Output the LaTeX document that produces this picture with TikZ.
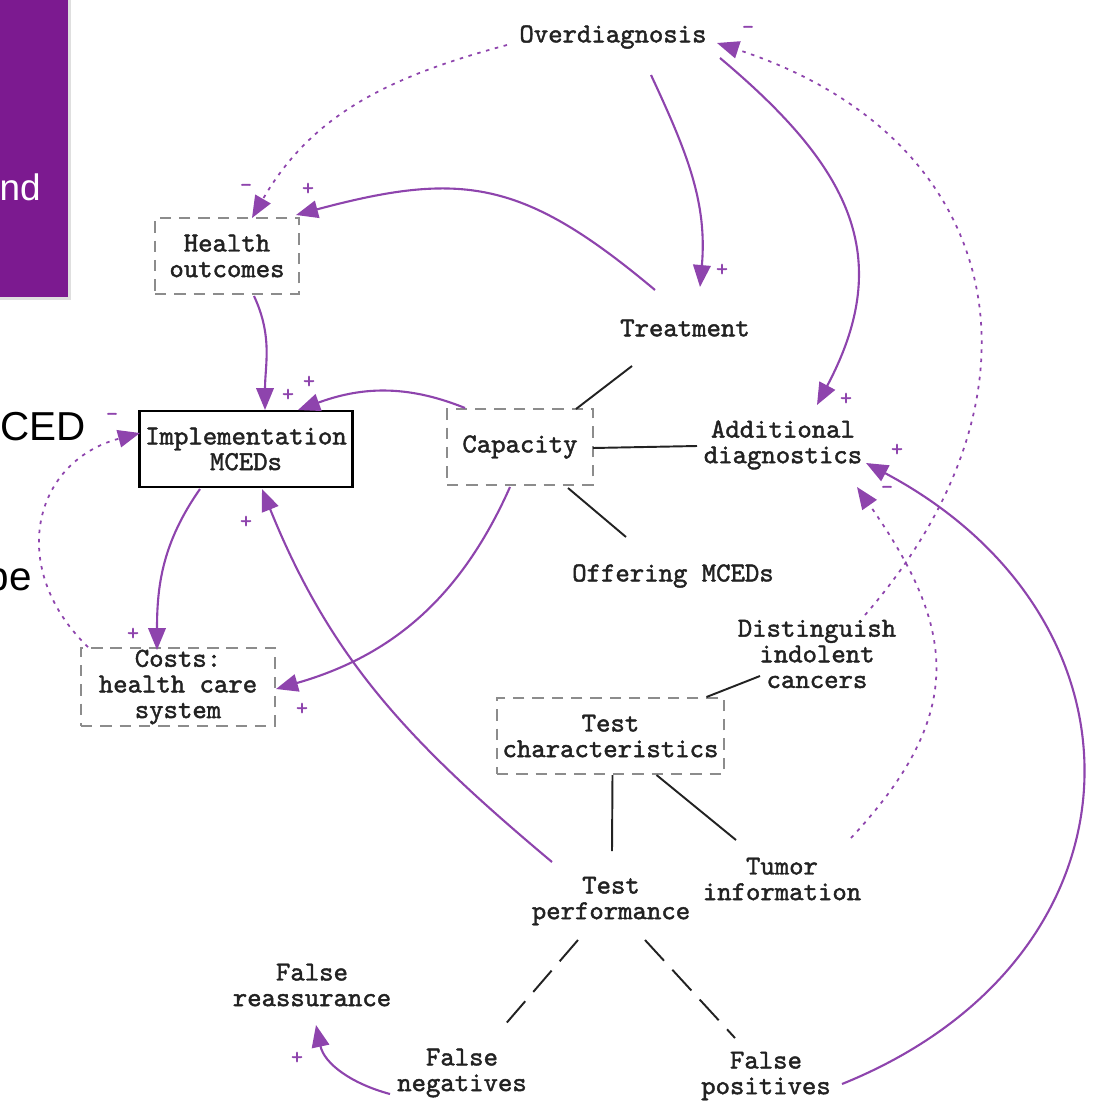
\documentclass[tikz,border=0pt]{standalone}
\usepackage{fontspec}
\newfontfamily\varfont{lmmono10-regular.otf}[FakeBold=1.6]
\newfontfamily\slidefont{Liberation Sans}
\usetikzlibrary{arrows.meta, calc, shadows}

\definecolor{loopline}{RGB}{142,68,173}
\definecolor{slidebg}{RGB}{124,26,144}
\definecolor{ink}{RGB}{34,34,34}

\begin{document}
\begin{tikzpicture}[
    var/.style={font=\varfont\fontsize{15.6}{14.6}\selectfont, text=ink, align=center, inner sep=1pt},
    dashbox/.style={var, rectangle, draw=gray!90, line width=1.1pt, dash pattern=on 6.5pt off 4.5pt},
    mainbox/.style={var, rectangle, draw=black, line width=1.4pt},
    link/.style={-{Triangle[length=12.5pt,width=10pt]}, loopline, line width=1.2pt},
    dotlink/.style={link, line width=1pt, dash pattern=on 2pt off 3.2pt},
    assoc/.style={ink, line width=1.1pt},
    longdash/.style={assoc, dash pattern=on 16pt off 7pt},
    polarity/.style={font=\varfont\fontsize{13}{13}\selectfont, text=loopline, inner sep=0pt},
    slidetext/.style={font=\slidefont\fontsize{23}{23}\selectfont, inner sep=0pt, anchor=base east}
  ]
  \useasboundingbox (0,0) rectangle (22,-22.02);

  % piece of the slide behind
  \fill[slidebg, drop shadow={shadow xshift=.6mm, shadow yshift=-.6mm, opacity=.25}] (-1,1) rectangle (1.36,-5.94);
  \node[slidetext, text=white, font=\slidefont\fontsize{21}{21}\selectfont] (frag1) at (0.82,-4.0) {nd};
  \node[slidetext] (frag2) at (1.72,-8.8) {CED};
  \node[slidetext] (frag3) at (0.64,-11.8) {pe};

  % variables
  \node[var] (over) at (12.26,-0.74) {Overdiagnosis};
  \node[dashbox, minimum width=2.88cm, minimum height=1.52cm] (health) at (4.54,-5.12) {Health\\outcomes};
  \node[var] (treat) at (13.7,-6.56) {Treatment};
  \node[mainbox, minimum width=4.26cm, minimum height=1.52cm] (impl) at (4.92,-8.98) {Implementation\\MCEDs};
  \node[dashbox, minimum width=2.92cm, minimum height=1.52cm] (cap) at (10.4,-8.94) {Capacity};
  \node[var] (addl) at (15.66,-8.9) {Additional\\diagnostics};
  \node[var] (offer) at (13.46,-11.52) {Offering MCEDs};
  \node[dashbox, minimum width=3.88cm, minimum height=1.48cm] (costs) at (3.56,-13.74) {Costs:\\health care\\system};
  \node[var] (dist) at (16.34,-13.08) {Distinguish\\indolent\\cancers};
  \node[dashbox, minimum width=4.54cm, minimum height=1.52cm] (chars) at (12.21,-14.72) {Test\\characteristics};
  \node[var] (tumor) at (15.64,-17.58) {Tumor\\information};
  \node[var] (perf) at (12.22,-18.02) {Test\\performance};
  \node[var] (reass) at (6.24,-19.7) {False\\reassurance};
  \node[var] (fneg) at (9.24,-21.46) {False\\negatives};
  \node[var] (fpos) at (15.32,-21.52) {False\\positives};

  % plain associations
  \draw[assoc] ($(treat)+(-1.06,-.76)$) -- ($(cap)+(1.12,.76)$);
  \draw[assoc] ($(cap)+(1.46,-.02)$) -- ($(addl)+(-1.72,-.02)$);
  \draw[assoc] ($(cap)+(.96,-.82)$) -- ($(offer)+(-.94,.78)$);
  \draw[assoc] ($(dist)+(-1.14,-.44)$) -- ($(chars)+(1.92,.78)$);
  \draw[assoc] ($(chars)+(.04,-.78)$) -- ($(perf)+(.02,1.0)$);
  \draw[assoc] ($(chars)+(.92,-.78)$) -- ($(tumor)+(-.92,.78)$);
  \draw[longdash] ($(perf)+(-.66,-.78)$) -- ($(fneg)+(.82,.92)$);
  \draw[longdash] ($(perf)+(.68,-.78)$) -- ($(fpos)+(-.62,.76)$);

  % causal links
  \draw[link] ($(over)+(.76,-.76)$) to[out=-65,in=85]
    node[polarity, pos=1, xshift=.44cm, yshift=.34cm] (p1) {+} ($(treat)+(.30,.82)$);
  \draw[link] ($(over)+(2.14,-.42)$) to[out=-40,in=62,looseness=1.2]
    node[polarity, pos=1, xshift=.58cm, yshift=.12cm] (p2) {+} ($(addl)+(.68,.80)$);
  \draw[link] ($(treat)+(-.60,.76)$) to[out=140,in=15,looseness=1.2]
    node[polarity, pos=1, xshift=.24cm, yshift=.52cm] (p3) {+} ($(health)+(1.38,.82)$);
  \draw[link] ($(health)+(.54,-.80)$) to[out=-65,in=90]
    node[polarity, pos=1, xshift=.46cm, yshift=.30cm] (p4) {+} ($(impl)+(.38,.78)$);
  \draw[link] ($(cap)+(-1.10,.78)$) to[out=158,in=20]
    node[polarity, pos=1, xshift=.22cm, yshift=.56cm] (p5) {+} ($(impl)+(1.04,.78)$);
  \draw[link] ($(impl)+(-.92,-.80)$) to[out=-125,in=90]
    node[polarity, pos=1, xshift=-.48cm, yshift=.32cm] (p6) {+} ($(costs)+(-.42,.74)$);
  \draw[link] ($(cap)+(-.20,-.80)$) to[out=-114,in=16]
    node[polarity, pos=1, xshift=.52cm, yshift=-.40cm] (p7) {+} ($(costs)+(1.96,-.04)$);
  \draw[link] ($(perf)+(-1.18,.78)$) to[out=140,in=-68]
    node[polarity, pos=1, xshift=-.32cm, yshift=-.66cm] (p8) {+} ($(impl)+(.32,-.80)$);
  \draw[link] ($(fpos)+(1.52,-.16)$) to[out=22,in=-28,looseness=1.38]
    node[polarity, pos=1, xshift=.62cm, yshift=.26cm] (p9) {+} ($(addl)+(1.66,-.36)$);
  \draw[link] ($(fneg)+(-1.44,-.42)$) to[out=165,in=-78]
    node[polarity, pos=1, xshift=-.38cm, yshift=-.66cm] (p10) {+} ($(reass)+(.08,-.80)$);

  % dotted links
  \draw[dotlink] ($(over)+(-2.12,-.16)$) to[out=195,in=60]
    node[polarity, pos=1, xshift=-.12cm, yshift=.60cm] (p11) {-} ($(health)+(.50,.76)$);
  \draw[dotlink] ($(dist)+(.96,.78)$) to[out=49,in=-18,looseness=1.3]
    node[polarity, pos=1, xshift=.62cm, yshift=.26cm] (p12) {-} ($(over)+(2.08,-.12)$);
  \draw[dotlink] ($(tumor)+(1.38,.82)$) to[out=47,in=-55,looseness=1.25]
    node[polarity, pos=1, xshift=.60cm, yshift=-.06cm] (p13) {-} ($(addl)+(1.48,-.84)$);
  \draw[dotlink] ($(costs)+(-1.80,.80)$) to[out=136,in=195,looseness=1.3]
    node[polarity, pos=1, xshift=-.56cm, yshift=.32cm] (p14) {-} ($(impl)+(-2.12,.32)$);
\end{tikzpicture}
\end{document}
